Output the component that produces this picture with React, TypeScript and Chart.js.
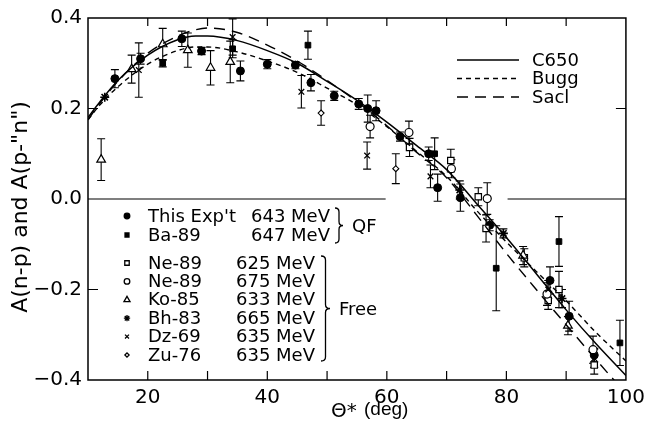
import React, { useEffect, useRef } from "react";
import { Chart, registerables } from "chart.js";
import { drawPoint } from "chart.js/helpers";

Chart.register(...registerables);

// ---- theory curves ----
const curveX = [10, 12, 15, 20, 25, 28, 30, 35, 40, 45, 50, 55, 60, 65, 70, 75, 80, 85, 90, 95, 100];
const c650Y = [0.18, 0.215, 0.262, 0.318, 0.352, 0.36, 0.36, 0.35, 0.328, 0.3, 0.26, 0.218, 0.17, 0.118, 0.065, -0.01, -0.085, -0.165, -0.245, -0.32, -0.39];
const buggY = [0.175, 0.208, 0.248, 0.298, 0.328, 0.336, 0.336, 0.325, 0.305, 0.28, 0.245, 0.208, 0.16, 0.105, 0.05, -0.025, -0.095, -0.16, -0.225, -0.295, -0.358];
const saclY = [0.175, 0.212, 0.26, 0.322, 0.36, 0.374, 0.378, 0.368, 0.34, 0.305, 0.262, 0.215, 0.162, 0.103, 0.047, -0.035, -0.12, -0.2, -0.278, -0.355, -0.43];

// zero reference line (broken between 60 and 80 deg)
const zeroLineX = [10, 59.8, 70, 80.2, 100];
const zeroLineY = [0, 0, null, 0, 0];

// ---- data sets: angle, asymmetry, error ----
const thisExpX = [14.5, 18.8, 25.7, 29.0, 35.5, 40.0, 44.7, 47.3, 51.2, 55.3, 56.8, 58.2, 62.2, 67.0, 68.5, 72.3, 77.2, 87.3, 90.5, 94.7];
const thisExpY = [0.266, 0.31, 0.354, 0.327, 0.283, 0.298, 0.296, 0.257, 0.228, 0.21, 0.2, 0.195, 0.138, 0.1, 0.025, 0.003, -0.058, -0.18, -0.259, -0.345];
const thisExpE = [0.02, 0.012, 0.017, 0.008, 0.022, 0.01, 0.008, 0.018, 0.01, 0.012, 0.03, 0.022, 0.01, 0.015, 0.03, 0.03, 0.012, 0.03, 0.033, 0.015];

const ba89X = [22.5, 34.2, 46.8, 68.0, 78.3, 88.8, 99.0];
const ba89Y = [0.3, 0.332, 0.34, 0.1, -0.153, -0.094, -0.318];
const ba89E = [0.008, 0.02, 0.031, 0.035, 0.094, 0.055, 0.05];

const ne625X = [63.8, 70.7, 75.3, 76.6, 83.0, 87.0, 88.8, 94.7];
const ne625Y = [0.114, 0.085, 0.005, -0.065, -0.13, -0.224, -0.2, -0.367];
const ne625E = [0.02, 0.025, 0.02, 0.03, 0.02, 0.02, 0.04, 0.02];

const ne675X = [57.2, 63.7, 70.8, 76.8, 86.8, 94.5];
const ne675Y = [0.16, 0.147, 0.067, 0.001, -0.21, -0.333];
const ne675E = [0.025, 0.025, 0.02, 0.035, 0.025, 0.03];

const ko85X = [12.2, 17.3, 22.5, 26.7, 30.5, 33.8, 82.8, 90.3];
const ko85Y = [0.087, 0.287, 0.342, 0.329, 0.29, 0.303, -0.125, -0.28];
const ko85E = [0.046, 0.031, 0.035, 0.038, 0.038, 0.046, 0.02, 0.02];

const bh83X = [12.8, 72.2, 79.5, 89.3];
const bh83Y = [0.225, 0.02, -0.076, -0.22];
const bh83E = [0.0, 0.02, 0.01, 0.02];

const dz69X = [18.5, 34.2, 45.7, 56.7, 67.3, 87.0, 94.7];
const dz69Y = [0.285, 0.358, 0.237, 0.096, 0.05, -0.2, -0.352];
const dz69E = [0.06, 0.04, 0.036, 0.03, 0.025, 0.02, 0.02];

const zu76X = [49.0, 61.5];
const zu76Y = [0.19, 0.067];
const zu76E = [0.027, 0.033];

// ---- axis ticks ----
const xTickValues = [20, 40, 60, 80, 100];
const yTickValues = [-0.4, -0.2, 0, 0.2, 0.4];
const xInnerTicks = [20, 30, 40, 50, 60, 70, 80, 90];
const yInnerTicks = [0.2, -0.2];

// ---- legend texts ----
const theoryNames = ["C650", "Bugg", "Sacl"];
const qfNames = ["This Exp't", "Ba-89"];
const qfEnergies = ["643 MeV", "647 MeV"];
const freeNames = ["Ne-89", "Ne-89", "Ko-85", "Bh-83", "Dz-69", "Zu-76"];
const freeEnergies = ["625 MeV", "675 MeV", "633 MeV", "665 MeV", "635 MeV", "635 MeV"];
const yTitle = 'A(n-p) and A(p-"n")';
const xTitleSym = "\u0398*";
const xTitleUnit = "(deg)";

const pts = (xs: number[], ys: (number | null)[]) => xs.map((x, i) => ({ x, y: ys[i] }));

const FONT = "DejaVu Sans";

type Mk = { pointStyle: string; radius: number; fill: string; borderWidth: number };
const markers: Mk[] = [
  { pointStyle: "circle", radius: 4, fill: "#000", borderWidth: 1 },
  { pointStyle: "rect", radius: 4, fill: "#000", borderWidth: 1 },
  { pointStyle: "rect", radius: 4.5, fill: "#fff", borderWidth: 1.2 },
  { pointStyle: "circle", radius: 4, fill: "#fff", borderWidth: 1.2 },
  { pointStyle: "triangle", radius: 5, fill: "#fff", borderWidth: 1.2 },
  { pointStyle: "star", radius: 4.5, fill: "#000", borderWidth: 1.6 },
  { pointStyle: "crossRot", radius: 4, fill: "#000", borderWidth: 1.3 },
  { pointStyle: "rectRot", radius: 3, fill: "#fff", borderWidth: 1.1 },
];

const errorBarPlugin = {
  id: "errorBars",
  beforeDatasetsDraw(chart: any) {
    const { ctx, scales } = chart;
    ctx.save();
    ctx.strokeStyle = "#000";
    ctx.lineWidth = 1.1;
    chart.data.datasets.forEach((ds: any) => {
      if (!ds.errors) return;
      ds.data.forEach((p: any, i: number) => {
        const e = ds.errors[i];
        if (!e) return;
        const px = scales.x.getPixelForValue(p.x);
        const y1 = scales.y.getPixelForValue(p.y + e);
        const y2 = scales.y.getPixelForValue(p.y - e);
        ctx.beginPath();
        ctx.moveTo(px, y1);
        ctx.lineTo(px, y2);
        ctx.moveTo(px - 4, y1);
        ctx.lineTo(px + 4, y1);
        ctx.moveTo(px - 4, y2);
        ctx.lineTo(px + 4, y2);
        ctx.stroke();
      });
    });
    ctx.restore();
  },
};

function brace(ctx: CanvasRenderingContext2D, x: number, y1: number, y2: number, w: number) {
  const m = (y1 + y2) / 2;
  const c = x + w * 0.5;
  ctx.beginPath();
  ctx.moveTo(x, y1);
  ctx.quadraticCurveTo(c, y1, c, y1 + 4);
  ctx.lineTo(c, m - 4);
  ctx.quadraticCurveTo(c, m, x + w, m);
  ctx.quadraticCurveTo(c, m, c, m + 4);
  ctx.lineTo(c, y2 - 4);
  ctx.quadraticCurveTo(c, y2, x, y2);
  ctx.stroke();
}

const decorPlugin = {
  id: "decor",
  afterDraw(chart: any) {
    const { ctx, chartArea: a, scales } = chart;
    ctx.save();
    // frame
    ctx.strokeStyle = "#000";
    ctx.lineWidth = 1.5;
    ctx.strokeRect(a.left, a.top, a.right - a.left, a.bottom - a.top);
    // inward ticks
    ctx.lineWidth = 1.2;
    ctx.beginPath();
    xInnerTicks.forEach((v) => {
      const px = scales.x.getPixelForValue(v);
      ctx.moveTo(px, a.bottom);
      ctx.lineTo(px, a.bottom - 9);
      ctx.moveTo(px, a.top);
      ctx.lineTo(px, a.top + 8);
    });
    yInnerTicks.forEach((v) => {
      const py = scales.y.getPixelForValue(v);
      ctx.moveTo(a.left, py);
      ctx.lineTo(a.left + 10, py);
      ctx.moveTo(a.right, py);
      ctx.lineTo(a.right - 10, py);
    });
    ctx.stroke();

    // theory legend (top right)
    ctx.fillStyle = "#000";
    ctx.font = `18px "${FONT}"`;
    ctx.textBaseline = "middle";
    ctx.textAlign = "left";
    const dashes = [[], [5, 4], [11, 7]];
    theoryNames.forEach((n, i) => {
      const y = 60 + i * 18.5;
      ctx.setLineDash(dashes[i]);
      ctx.lineWidth = 1.3;
      ctx.beginPath();
      ctx.moveTo(457, y);
      ctx.lineTo(519, y);
      ctx.stroke();
      ctx.setLineDash([]);
      ctx.fillText(n, 532, y + 1);
    });

    // data legend (lower left)
    const drawRow = (mk: Mk, name: string, en: string, y: number, ex: number) => {
      ctx.fillStyle = mk.fill;
      ctx.strokeStyle = "#000";
      drawPoint(ctx, { pointStyle: mk.pointStyle, radius: mk.radius * 0.7, borderWidth: mk.borderWidth, rotation: 0 } as any, 127, y);
      ctx.fillStyle = "#000";
      ctx.fillText(name, 148, y + 1);
      ctx.fillText(en, ex, y + 1);
    };
    qfNames.forEach((n, i) => drawRow(markers[i], n, qfEnergies[i], 216 + i * 19, 251));
    freeNames.forEach((n, i) => drawRow(markers[i + 2], n, freeEnergies[i], 263 + i * 18.4, 236));
    ctx.lineWidth = 1.3;
    brace(ctx, 335, 208, 243, 8);
    brace(ctx, 321, 256, 361, 9);
    ctx.fillText("QF", 352, 227);
    ctx.fillText("Free", 339, 310);

    // axis titles
    ctx.font = `22px "${FONT}"`;
    ctx.save();
    ctx.translate(21, 207);
    ctx.rotate(-Math.PI / 2);
    ctx.textAlign = "center";
    ctx.fillText(yTitle, 0, 0);
    ctx.restore();
    ctx.font = `20px "${FONT}"`;
    ctx.fillText(xTitleSym, 331, 412);
    ctx.font = `19px "Liberation Sans"`;
    ctx.fillText(xTitleUnit, 364, 410);
    ctx.restore();
  },
};

function scatterDs(label: string, xs: number[], ys: number[], es: number[], mk: Mk) {
  return {
    type: "scatter" as const,
    label,
    data: pts(xs, ys),
    errors: es,
    pointStyle: mk.pointStyle,
    pointRadius: mk.radius,
    pointBackgroundColor: mk.fill,
    pointBorderColor: "#000",
    pointBorderWidth: mk.borderWidth,
    showLine: false,
  };
}

function lineDs(label: string, ys: (number | null)[], xs: number[], dash: number[], width: number) {
  return {
    type: "line" as const,
    label,
    data: pts(xs, ys),
    borderColor: "#000",
    borderWidth: width,
    borderDash: dash,
    pointRadius: 0,
    fill: false,
    tension: 0.4,
    cubicInterpolationMode: "monotone" as const,
    spanGaps: false,
  };
}

export default function App() {
  const ref = useRef<HTMLCanvasElement>(null);
  useEffect(() => {
    const chart = new Chart(ref.current as HTMLCanvasElement, {
      type: "scatter",
      data: {
        datasets: [
          { ...lineDs("zero", zeroLineY, zeroLineX, [], 1.2), tension: 0 },
          lineDs(theoryNames[0], c650Y, curveX, [], 1.5),
          lineDs(theoryNames[1], buggY, curveX, [5, 4], 1.4),
          lineDs(theoryNames[2], saclY, curveX, [11, 7], 1.4),
          scatterDs("Zu-76", zu76X, zu76Y, zu76E, markers[7]),
          scatterDs("Dz-69", dz69X, dz69Y, dz69E, markers[6]),
          scatterDs("Bh-83", bh83X, bh83Y, bh83E, markers[5]),
          scatterDs("Ko-85", ko85X, ko85Y, ko85E, markers[4]),
          scatterDs("Ne-89 675", ne675X, ne675Y, ne675E, markers[3]),
          scatterDs("Ne-89 625", ne625X, ne625Y, ne625E, markers[2]),
          scatterDs("Ba-89", ba89X, ba89Y, ba89E, markers[1]),
          scatterDs("This Exp't", thisExpX, thisExpY, thisExpE, markers[0]),
        ] as any,
      },
      options: {
        animation: false,
        responsive: true,
        maintainAspectRatio: false,
        layout: { padding: { left: 0, top: 17, right: 20, bottom: 0 } },
        plugins: { legend: { display: false }, tooltip: { enabled: false } },
        scales: {
          x: {
            type: "linear",
            min: 10,
            max: 100,
            grid: { display: false, drawTicks: false },
            border: { display: false },
            afterBuildTicks: (s: any) => {
              s.ticks = xTickValues.map((v) => ({ value: v }));
            },
            afterFit: (s: any) => {
              s.height = 43;
            },
            ticks: {
              color: "#000",
              font: { family: FONT, size: 20 },
              padding: 6,
              maxRotation: 0,
              callback: (v: any) => String(v),
            },
          },
          y: {
            type: "linear",
            min: -0.4,
            max: 0.4,
            grid: { display: false, drawTicks: false },
            border: { display: false },
            afterBuildTicks: (s: any) => {
              s.ticks = yTickValues.map((v) => ({ value: v }));
            },
            afterFit: (s: any) => {
              s.width = 88;
            },
            ticks: {
              color: "#000",
              font: { family: FONT, size: 20 },
              padding: 6,
              callback: (v: any) => {
                const n = Number(v);
                const t = Math.abs(n).toFixed(1);
                return n < 0 ? "\u2212" + t : t;
              },
            },
          },
        },
      } as any,
      plugins: [errorBarPlugin, decorPlugin],
    });
    return () => chart.destroy();
  }, []);
  return (
    <div style={{ position: "absolute", left: 0, top: 0, width: 651, height: 423, background: "#fff" }}>
      <canvas ref={ref} />
    </div>
  );
}
